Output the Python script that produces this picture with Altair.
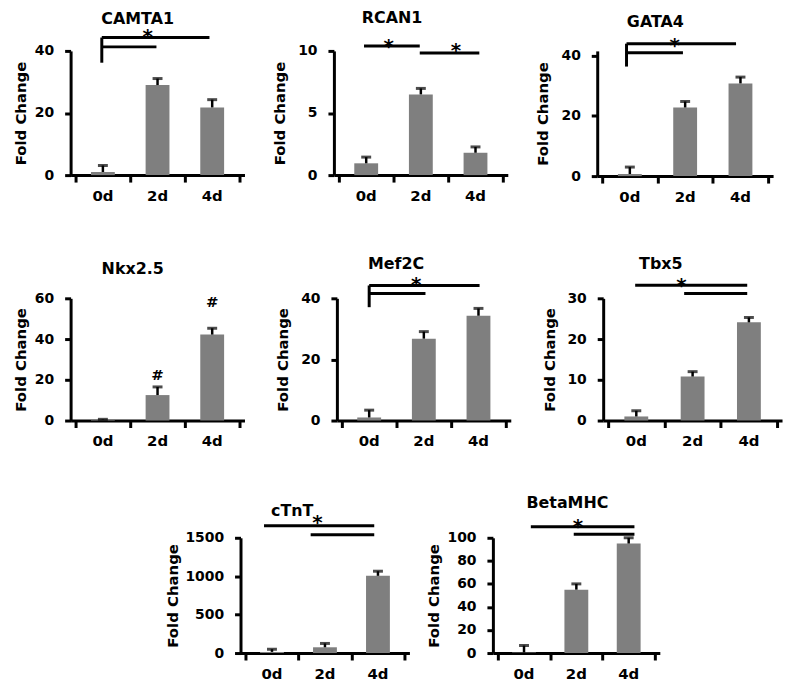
import altair as alt
import pandas as pd

FONT = "DejaVu Sans"
GRAY = "#7f7f7f"
days = ["0d", "2d", "4d"]

# ---- data: bar means and SEM (upper error) ----
camta1_mean = [1.0, 29.0, 21.8]
camta1_sem = [2.1, 2.1, 2.5]
rcan1_mean = [0.95, 6.5, 1.8]
rcan1_sem = [0.5, 0.48, 0.47]
gata4_mean = [0.7, 22.8, 30.8]
gata4_sem = [2.3, 2.0, 2.1]
nkx25_mean = [0.4, 12.5, 42.2]
nkx25_sem = [0.2, 4.0, 3.1]
mef2c_mean = [1.0, 26.8, 34.3]
mef2c_sem = [2.4, 2.3, 2.4]
tbx5_mean = [1.0, 10.8, 24.1]
tbx5_sem = [1.4, 1.2, 1.2]
ctnt_mean = [15, 75, 1005]
ctnt_sem = [35, 50, 60]
betamhc_mean = [0.5, 55, 95]
betamhc_sem = [6, 5, 5]

# ---- y-axis tick values ----
camta1_ticks = [0, 20, 40]
rcan1_ticks = [0, 5, 10]
gata4_ticks = [0, 20, 40]
nkx25_ticks = [0, 20, 40, 60]
mef2c_ticks = [0, 20, 40]
tbx5_ticks = [0, 10, 20, 30]
ctnt_ticks = [0, 500, 1000, 1500]
betamhc_ticks = [0, 20, 40, 60, 80, 100]

# ---- significance brackets: (x from, x to, y from, y to) in data units ----
camta1_segs = [(0.48, 0.48, 44.3, 36.2), (0.48, 2.45, 44.3, 44.3), (0.48, 1.48, 41.3, 41.3)]
rcan1_segs = [(0.46, 1.48, 10.4, 10.4), (1.48, 2.57, 9.84, 9.84)]
gata4_segs = [(0.44, 0.44, 44.0, 36.4), (0.44, 2.42, 44.0, 44.0), (0.44, 1.46, 41.0, 41.0)]
nkx25_segs = []
mef2c_segs = [(0.5, 0.5, 44.2, 37.1), (0.5, 2.52, 44.2, 44.2), (0.5, 1.53, 41.6, 41.6)]
tbx5_segs = [(0.48, 2.47, 33.2, 33.2), (1.35, 2.47, 31.2, 31.2)]
ctnt_segs = [(0.35, 2.43, 1656, 1656), (1.23, 2.43, 1540, 1540)]
betamhc_segs = [(0.63, 2.61, 109.5, 109.5), (1.45, 2.61, 103, 103)]

# ---- significance symbols: (x, y, symbol) ----
camta1_sig = [(1.32, 42.6, "*")]
rcan1_sig = [(0.91, 9.84, "*"), (2.14, 9.5, "*")]
gata4_sig = [(1.31, 41.3, "*")]
nkx25_sig = [(1.5, 19.8, "#"), (2.5, 55.5, "#")]
mef2c_sig = [(1.36, 42.3, "*")]
tbx5_sig = [(1.3, 31.5, "*")]
ctnt_sig = [(1.36, 1617, "*")]
betamhc_sig = [(1.53, 104.3, "*")]


def panel(name, mean, sem, ticks, ymax, w, h, segs, sig,
          ytitle_x, title_dx, title_offset):
    df = pd.DataFrame({
        "pos": [i + 0.5 for i in range(len(days))],
        "day": days,
        "mean": mean,
        "upper": [m + s for m, s in zip(mean, sem)],
    })
    xs = alt.Scale(domain=[0, len(days)], nice=False, zero=False)
    ys = alt.Scale(domain=[0, ymax], nice=False)
    x_axis = alt.Axis(
        values=list(range(len(days) + 1)), labels=False,
        grid=False, domainColor="black", domainWidth=3,
        tickColor="black", tickWidth=3, tickSize=7,
    )
    y_axis = alt.Axis(
        values=ticks, tickCount=len(ticks), format="d",
        labelOverlap=False, labelSeparation=0, grid=False,
        domainColor="black", domainWidth=3,
        tickColor="black", tickWidth=3, tickSize=6,
        labelFont=FONT, labelFontSize=14, labelFontWeight="bold",
        labelColor="black", labelPadding=11,
        titleFont=FONT, titleFontSize=15, titleFontWeight="bold",
        titleColor="black", titleX=ytitle_x, titleY=h / 2,
        titleAngle=270, titleBaseline="middle", titleAlign="center",
    )
    bars = alt.Chart(df).mark_bar(size=24, color=GRAY).encode(
        x=alt.X("pos:Q", scale=xs, axis=x_axis, title=None),
        y=alt.Y("mean:Q", scale=ys, axis=y_axis, title="Fold Change"),
    )
    err = alt.Chart(df).mark_rule(strokeWidth=2.5, color="black").encode(
        x=alt.X("pos:Q", scale=xs, title=None),
        y=alt.Y("mean:Q", scale=ys, title="Fold Change"),
        y2="upper:Q",
    )
    cap = alt.Chart(df).mark_tick(orient="horizontal", size=10, thickness=3,
                                  color="black").encode(
        x=alt.X("pos:Q", scale=xs, title=None),
        y=alt.Y("upper:Q", scale=ys, title="Fold Change"),
    )
    xlabels = alt.Chart(df).mark_text(
        font=FONT, fontSize=15, fontWeight="bold", color="black",
        baseline="top", align="center", dy=14).encode(
        x=alt.X("pos:Q", scale=xs, title=None),
        y=alt.datum(0),
        text="day:N",
    )
    layers = [bars, err, cap, xlabels]
    if segs:
        sdf = pd.DataFrame(segs, columns=["x1", "x2", "y1", "y2"])
        layers.append(alt.Chart(sdf).mark_rule(strokeWidth=3, color="black").encode(
            x=alt.X("x1:Q", scale=xs, title=None), x2="x2:Q",
            y=alt.Y("y1:Q", scale=ys, title="Fold Change"), y2="y2:Q",
        ))
    tdf = pd.DataFrame(sig, columns=["x", "y", "t"])
    for sym, fs in (("*", 20), ("#", 15)):
        sub = tdf[tdf["t"] == sym]
        if len(sub):
            layers.append(alt.Chart(sub).mark_text(
                font=FONT, fontSize=fs, fontWeight="bold", color="black",
                baseline="alphabetic", align="center").encode(
                x=alt.X("x:Q", scale=xs, title=None),
                y=alt.Y("y:Q", scale=ys, title="Fold Change"),
                text="t:N",
            ))
    return alt.layer(*layers).properties(
        width=w, height=h,
        title=alt.TitleParams(
            text=name, font=FONT, fontSize=16, fontWeight="bold", color="black",
            anchor="middle", frame="group", dx=title_dx, offset=title_offset,
            baseline="alphabetic",
        ),
    )


row1 = alt.hconcat(
    panel("CAMTA1", camta1_mean, camta1_sem, camta1_ticks, 40, 175, 125,
          camta1_segs, camta1_sig, -50, -20, -13),
    panel("RCAN1", rcan1_mean, rcan1_sem, rcan1_ticks, 10, 175, 125,
          rcan1_segs, rcan1_sig, -55, -29, -2),
    panel("GATA4", gata4_mean, gata4_sem, gata4_ticks, 41.6, 177, 126,
          gata4_segs, gata4_sig, -55, -30, -7),
    spacing=90, bounds="flush",
)
row2 = alt.hconcat(
    panel("Nkx2.5", nkx25_mean, nkx25_sem, nkx25_ticks, 60, 175, 123,
          nkx25_segs, nkx25_sig, -50, -25, 1),
    panel("Mef2C", mef2c_mean, mef2c_sem, mef2c_ticks, 40, 175, 123,
          mef2c_segs, mef2c_sig, -55, -28, -10),
    panel("Tbx5", tbx5_mean, tbx5_sem, tbx5_ticks, 30, 180, 123,
          tbx5_segs, tbx5_sig, -54, -32, -9),
    spacing=93, bounds="flush",
)
spacer = alt.Chart(pd.DataFrame({"v": [0]})).mark_point(
    filled=True, color="white", opacity=1, size=4
).encode(
    x=alt.X("v:Q", axis=None, scale=alt.Scale(domain=[0, 1])),
    y=alt.Y("v:Q", axis=None, scale=alt.Scale(domain=[0, 1])),
).properties(width=87, height=116)
row3 = alt.hconcat(
    spacer,
    panel("cTnT", ctnt_mean, ctnt_sem, ctnt_ticks, 1500, 170, 116,
          ctnt_segs, ctnt_sig, -68, -33, -19),
    panel("BetaMHC", betamhc_mean, betamhc_sem, betamhc_ticks, 100, 168, 116,
          betamhc_segs, betamhc_sig, -60, -9, -7),
    spacing=84, bounds="flush",
)

top_rows = alt.vconcat(row1, row2, spacing=51)
chart = alt.vconcat(top_rows, row3, spacing=46).configure_view(
    stroke=None
).configure_axis(
    labelOverlap=False
).properties(
    padding={"left": 6, "top": 0, "right": 5, "bottom": 5},
    background="white",
)

chart.save("out.html", embed_options={"renderer": "svg", "actions": False})
